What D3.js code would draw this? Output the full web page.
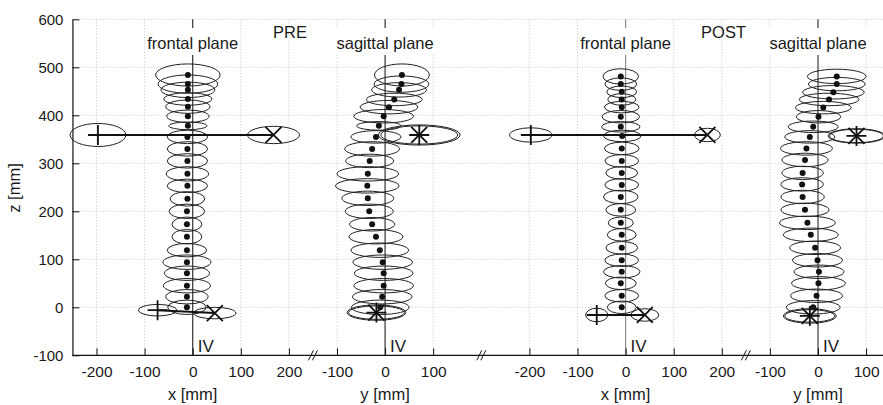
<!DOCTYPE html>
<html>
<head>
<meta charset="utf-8">
<script src="https://cdn.jsdelivr.net/npm/d3@7"></script>
<style>
  body { margin: 0; background: #fff; }
  text { font-family: "Liberation Sans", Arial, sans-serif; fill: #1a1a1a; }
</style>
</head>
<body>
<svg id="chart" width="883" height="405"></svg>
<script>
// shared vertical axis
const zTicks = [-100, 0, 100, 200, 300, 400, 500, 600];

// panels: PRE frontal, PRE sagittal, POST frontal, POST sagittal
const panelNames = ['frontal plane', 'sagittal plane', 'frontal plane', 'sagittal plane'];
const panelAxisLabels = ['x [mm]', 'y [mm]', 'x [mm]', 'y [mm]'];
const panelDomains = [[-250, 250], [-150, 200], [-300, 250], [-150, 140]];
const panelTicks = [[-200, -100, 0, 100, 200], [-100, 0, 100], [-200, -100, 0, 100, 200], [-100, 0, 100]];
const groupTitles = ['PRE', 'POST'];

// vertebra centres and their spread ellipses (mm)
const preFrontalZ  = [0, 22, 45, 71, 94, 119, 147, 173, 200, 226, 253, 278, 305, 330, 355, 378, 398, 418, 434, 453, 465, 484];
const preFrontalX  = [-12, -12, -12, -12, -12, -12, -12, -12, -12, -11, -11, -11, -11, -11, -11, -10, -10, -10, -10, -10, -10, -10];
const preFrontalRx = [40, 44, 49, 47, 50, 41, 31, 31, 37, 36, 42, 44, 42, 42, 42, 40, 44, 46, 50, 56, 62, 67];
const preFrontalRz = [15, 15, 15, 15, 15, 14, 15, 15, 15, 15, 14, 15, 15, 15, 14, 8, 13, 14, 13, 16, 19, 23];

const preSagZ  = [0, 22, 45, 71, 94, 119, 147, 173, 200, 227, 253, 278, 305, 330, 355, 378, 398, 417, 433, 453, 465, 484];
const preSagY  = [-10, -6, -3, -3, -5, -11, -19, -27, -33, -36, -37, -36, -32, -27, -19, -13, -3, 8, 19, 29, 34, 35];
const preSagRx = [60, 62, 62, 61, 62, 60, 56, 47, 50, 54, 66, 64, 50, 57, 52, 46, 62, 60, 58, 57, 57, 57];
const preSagRz = [15, 15, 15, 15, 15, 15, 15, 14, 15, 15, 15, 15, 14, 15, 13, 9, 14, 14, 13, 15, 17, 23];

const postFrontalZ  = [0, 24, 50, 74, 98, 124, 151, 176, 203, 230, 255, 280, 305, 331, 357, 376, 397, 417, 433, 449, 465, 481];
const postFrontalX  = [-8, -8, -10, -8, -8, -8, -8, -10, -10, -10, -8, -8, -8, -8, -7, -10, -10, -8, -8, -8, -10, -10];
const postFrontalRx = [30, 35, 32, 38, 35, 33, 30, 26, 31, 36, 35, 33, 35, 36, 39, 40, 39, 36, 29, 31, 33, 37];
const postFrontalRz = [13, 13, 13, 13, 13, 13, 13, 12, 13, 14, 13, 13, 13, 13, 12, 11, 13, 12, 12, 12, 13, 16];

const postSagZ  = [0, 24, 50, 74, 98, 124, 151, 176, 203, 230, 256, 280, 307, 331, 355, 376, 397, 416, 433, 448, 465, 481];
const postSagY  = [-10, -3, 1, 2, -1, -6, -15, -22, -27, -32, -33, -32, -27, -24, -17, -10, 1, 11, 23, 32, 39, 39];
const postSagRx = [56, 54, 56, 52, 52, 53, 57, 58, 50, 45, 44, 43, 48, 54, 52, 52, 46, 58, 62, 64, 59, 61];
const postSagRz = [14, 14, 14, 14, 14, 14, 14, 14, 14, 14, 14, 14, 14, 14, 13, 12, 13, 13, 13, 14, 14, 15];

// shoulder (+, x) and pelvis (+, x) markers with their ellipses (mm)
const markTypes = ['+', 'x', '+', 'x'];
const markPairs = [[0, 1], [2, 3]];
const preFrontalMarkH  = [-197, 168, -73, 46];
const preFrontalMarkZ  = [359, 359, -6, -12];
const preFrontalMarkRx = [58, 54, 40, 44];
const preFrontalMarkRz = [24, 18, 12, 12];
const preSagMarkH  = [71, 71, -18, -18];
const preSagMarkZ  = [359, 359, -11, -11];
const preSagMarkRx = [85, 80, 58, 61];
const preSagMarkRz = [21, 19, 14, 16];
const postFrontalMarkH  = [-197, 170, -60, 40];
const postFrontalMarkZ  = [359, 359, -16, -16];
const postFrontalMarkRx = [44, 27, 23, 29];
const postFrontalMarkRz = [15, 14, 14, 13];
const postSagMarkH  = [80, 80, -17, -17];
const postSagMarkZ  = [357, 357, -18, -18];
const postSagMarkRx = [59, 56, 55, 52];
const postSagMarkRz = [15, 14, 15, 13];

const panels = [
    { z: preFrontalZ, h: preFrontalX, rx: preFrontalRx, rz: preFrontalRz,
      mh: preFrontalMarkH, mz: preFrontalMarkZ, mrx: preFrontalMarkRx, mrz: preFrontalMarkRz },
    { z: preSagZ, h: preSagY, rx: preSagRx, rz: preSagRz,
      mh: preSagMarkH, mz: preSagMarkZ, mrx: preSagMarkRx, mrz: preSagMarkRz },
    { z: postFrontalZ, h: postFrontalX, rx: postFrontalRx, rz: postFrontalRz,
      mh: postFrontalMarkH, mz: postFrontalMarkZ, mrx: postFrontalMarkRx, mrz: postFrontalMarkRz },
    { z: postSagZ, h: postSagY, rx: postSagRx, rz: postSagRz,
      mh: postSagMarkH, mz: postSagMarkZ, mrx: postSagMarkRx, mrz: postSagMarkRz }
];

const svg = d3.select('#chart');
const plotLeft = 72.45, plotTop = 19.3, plotBottom = 355.3, pxPerMm = 0.481;

// one continuous horizontal axis, panels placed side by side on it
const uScale = d3.scaleLinear().domain([0, 1700]).range([plotLeft, plotLeft + 1700 * pxPerMm]);
const zScale = d3.scaleLinear().domain([-100, 600]).range([plotBottom, plotTop]);

let uStart = 0;
panels.forEach((p, i) => {
    const [lo, hi] = panelDomains[i];
    p.scale = d3.scaleLinear().domain([lo, hi]).range([uScale(uStart), uScale(uStart + hi - lo)]);
    uStart += hi - lo;
    p.breakAt = p.scale.range()[1];
});

const grid = svg.append('g').attr('stroke', '#b8b8b8').attr('stroke-width', 0.8).attr('stroke-dasharray', '1,2');
zTicks.filter(t => t > -100).forEach(t => {
    grid.append('line').attr('x1', plotLeft).attr('x2', 883).attr('y1', zScale(t)).attr('y2', zScale(t));
});
panels.forEach((p, i) => {
    panelTicks[i].filter(t => t !== 0).forEach(t => {
        grid.append('line').attr('x1', p.scale(t)).attr('x2', p.scale(t)).attr('y1', plotTop).attr('y2', plotBottom);
    });
});

// zero lines of each panel
const zeroColors = ['#333', '#333', '#8c8c8c', '#3c3c3c'];
panels.forEach((p, i) => {
    svg.append('line')
        .attr('x1', p.scale(0)).attr('x2', p.scale(0))
        .attr('y1', plotTop).attr('y2', plotBottom)
        .attr('stroke', zeroColors[i]).attr('stroke-width', 1.2);
});

// ellipses and centres
panels.forEach(p => {
    const g = svg.append('g');
    const idx = d3.range(p.z.length);
    g.selectAll('ellipse').data(idx).join('ellipse')
        .attr('cx', j => p.scale(p.h[j]))
        .attr('cy', j => zScale(p.z[j]))
        .attr('rx', j => p.scale(p.h[j] + p.rx[j]) - p.scale(p.h[j]))
        .attr('ry', j => zScale(p.z[j]) - zScale(p.z[j] + p.rz[j]))
        .attr('fill', 'none').attr('stroke', '#222').attr('stroke-width', 1);
    g.selectAll('circle').data(idx).join('circle')
        .attr('cx', j => p.scale(p.h[j]))
        .attr('cy', j => zScale(p.z[j]))
        .attr('r', 3).attr('fill', '#111');
});

// markers
panels.forEach(p => {
    const g = svg.append('g');
    const idx = d3.range(p.mh.length);
    g.selectAll('ellipse').data(idx).join('ellipse')
        .attr('cx', j => p.scale(p.mh[j]))
        .attr('cy', j => zScale(p.mz[j]))
        .attr('rx', j => p.scale(p.mh[j] + p.mrx[j]) - p.scale(p.mh[j]))
        .attr('ry', j => zScale(p.mz[j]) - zScale(p.mz[j] + p.mrz[j]))
        .attr('fill', 'none').attr('stroke', '#222').attr('stroke-width', 1);
    markPairs.forEach(([a, b]) => {
        g.append('line')
            .attr('x1', p.scale(p.mh[a])).attr('y1', zScale(p.mz[a]))
            .attr('x2', p.scale(p.mh[b])).attr('y2', zScale(p.mz[b]))
            .attr('stroke', '#111').attr('stroke-width', 2);
    });
    idx.forEach(j => {
        const cx = p.scale(p.mh[j]), cy = zScale(p.mz[j]);
        const s = markTypes[j] === '+' ? 10 : 8;
        const path = markTypes[j] === '+'
            ? `M${cx - s},${cy}H${cx + s}M${cx},${cy - s}V${cy + s}`
            : `M${cx - s},${cy - s}L${cx + s},${cy + s}M${cx - s},${cy + s}L${cx + s},${cy - s}`;
        g.append('path').attr('d', path).attr('stroke', '#111').attr('stroke-width', 1.8).attr('fill', 'none');
    });
});

// plane labels with white background, IV labels
panels.forEach((p, i) => {
    const t = svg.append('text')
        .attr('x', p.scale(0)).attr('y', 49)
        .attr('text-anchor', 'middle').attr('font-size', 16.5)
        .text(panelNames[i]);
    const bb = t.node().getBBox();
    svg.insert('rect', () => t.node())
        .attr('x', bb.x - 2).attr('y', 28).attr('width', bb.width + 4).attr('height', 27)
        .attr('fill', '#fff');
    svg.append('text')
        .attr('x', p.scale(0) + 5).attr('y', 352)
        .attr('font-size', 17)
        .text('IV');
});
svg.append('text').attr('x', panels[0].scale(167)).attr('y', 38).attr('font-size', 16.5).text(groupTitles[0]);
svg.append('text').attr('x', panels[2].scale(157)).attr('y', 38).attr('font-size', 16.5).text(groupTitles[1]);

// axes (plain hyphen minus like the original)
const plainFormat = d => String(d);
const zAxis = svg.append('g').attr('transform', `translate(${plotLeft},0)`)
    .call(d3.axisLeft(zScale).tickValues(zTicks).tickFormat(plainFormat).tickSizeInner(-7).tickSizeOuter(0).tickPadding(9));
zAxis.select('.domain').attr('stroke', '#111').attr('stroke-width', 1.2);
zAxis.selectAll('.tick line').attr('stroke', '#111');
zAxis.selectAll('.tick text').attr('font-size', 15).attr('font-family', '"Liberation Sans", Arial, sans-serif').attr('fill', '#1a1a1a');

panels.forEach((p, i) => {
    const ax = svg.append('g').attr('transform', `translate(0,${plotBottom})`)
        .call(d3.axisBottom(p.scale).tickValues(panelTicks[i]).tickFormat(plainFormat).tickSizeInner(-7).tickSizeOuter(0).tickPadding(11));
    ax.select('.domain').remove();
    ax.selectAll('.tick line').attr('stroke', '#111');
    ax.selectAll('.tick text').attr('font-size', 15.5).attr('font-family', '"Liberation Sans", Arial, sans-serif').attr('fill', '#1a1a1a');
    svg.append('text')
        .attr('x', p.scale(0)).attr('y', 400)
        .attr('text-anchor', 'middle').attr('font-size', 16.5)
        .text(panelAxisLabels[i]);
});

svg.append('line').attr('x1', plotLeft).attr('x2', 883).attr('y1', plotBottom).attr('y2', plotBottom)
    .attr('stroke', '#111').attr('stroke-width', 1.2);

// axis break marks
panels.slice(0, 3).forEach(p => {
    const bx = p.breakAt;
    [-2, 2].forEach(d => {
        svg.append('line')
            .attr('x1', bx + d - 2.5).attr('y1', plotBottom + 5)
            .attr('x2', bx + d + 2.5).attr('y2', plotBottom - 5)
            .attr('stroke', '#111').attr('stroke-width', 1);
    });
});

svg.append('text')
    .attr('transform', `translate(19.5,188) rotate(-90)`)
    .attr('text-anchor', 'middle').attr('font-size', 16.5)
    .text('z [mm]');
</script>
</body>
</html>
